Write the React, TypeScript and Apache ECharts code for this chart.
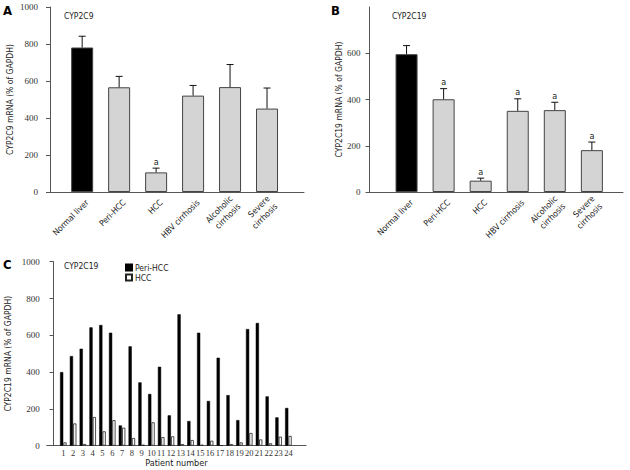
import React, { useEffect, useRef } from "react";
import * as echarts from "echarts";

// ---------- data ----------
const groupNames = [
  "Normal liver",
  "Peri-HCC",
  "HCC",
  "HBV cirrhosis",
  "Alcoholic\ncirrhosis",
  "Severe\ncirrhosis",
];
const cyp2c9Mean = [781, 566, 106, 521, 567, 451];
const cyp2c9Upper = [842, 625, 129, 576, 689, 562];
const cyp2c9Sig = [false, false, true, false, false, false];
const cyp2c19Mean = [596, 401, 49, 351, 354, 181];
const cyp2c19Upper = [633, 447, 60, 403, 388, 216];
const cyp2c19Sig = [false, true, true, true, true, true];
const patientNumbers = [
  1, 2, 3, 4, 5, 6, 7, 8, 9, 10, 11, 12, 13, 14, 15, 16, 17, 18, 19, 20, 21, 22, 23, 24,
];
const periHccValues = [
  400, 487, 527, 643, 656, 614, 110, 540, 344, 281, 429, 165, 714, 134, 614, 243, 478, 275,
  139, 634, 667, 268, 154, 205,
];
const hccValues = [
  18, 121, 9, 156, 78, 139, 98, 42, 5, 127, 47, 51, 9, 31, 5, 27, 2, 9, 18, 69, 34, 13, 49, 53,
];
const groupPositions = [1, 2, 3, 4, 5, 6];
const yTicksA = [0, 200, 400, 600, 800, 1000];
const yTicksB = [0, 200, 400, 600];

// ---------- styling ----------
const SANS = '"DejaVu Sans Condensed", "DejaVu Sans", Verdana, sans-serif';
const SERIF = '"Liberation Serif", "DejaVu Serif", serif';
const AXIS_COLOR = "#555";
const TEXT_COLOR = "#222";
const BAR_GRAY = "#d4d4d4";

function errorRenderer(params: any, api: any) {
  const x = api.value(0);
  const p0 = api.coord([x, api.value(1)]);
  const p1 = api.coord([x, api.value(2)]);
  const half = 3.5;
  const children: any[] = [
    { type: "line", shape: { x1: p0[0], y1: p0[1], x2: p1[0], y2: p1[1] }, style: { stroke: "#111", lineWidth: 1 } },
    { type: "line", shape: { x1: p1[0] - half, y1: p1[1], x2: p1[0] + half, y2: p1[1] }, style: { stroke: "#111", lineWidth: 1 } },
  ];
  if (api.value(3)) {
    children.push({
      type: "text",
      style: { text: "a", x: p1[0], y: p1[1] - 2, align: "center", verticalAlign: "bottom", fill: TEXT_COLOR, fontSize: 9, fontFamily: SANS },
    });
  }
  return { type: "group", children };
}

// 45° category labels placed under each bar through the axis scale
function labelRenderer(params: any, api: any) {
  const idx = api.value(1);
  const p = api.coord([api.value(0), 0]);
  return {
    type: "text",
    x: p[0] + 5,
    y: p[1] + 9,
    rotation: Math.PI / 4,
    style: {
      text: groupNames[idx],
      align: "right",
      verticalAlign: "middle",
      fontSize: 8.5,
      lineHeight: 11,
      fontFamily: SANS,
      fill: TEXT_COLOR,
    },
  };
}

function groupXAxis(gridIndex: number, min: number, max: number) {
  return {
    gridIndex, type: "value", min, max,
    axisLine: { show: true, onZero: false, lineStyle: { color: AXIS_COLOR, width: 1 } },
    axisTick: { show: false }, splitLine: { show: false }, axisLabel: { show: false },
  };
}

function valueYAxis(gridIndex: number, max: number, ticks: number[], name: string, nameGap: number, margin: number) {
  return {
    gridIndex, type: "value", min: 0, max, interval: 200,
    axisLine: { show: true, lineStyle: { color: AXIS_COLOR, width: 1 } },
    axisTick: { show: true, inside: false, length: 4, customValues: ticks, lineStyle: { color: AXIS_COLOR } },
    splitLine: { show: false },
    axisLabel: { customValues: ticks, formatter: (v: number) => String(v), margin, fontSize: 9, fontFamily: SERIF, color: "#333" },
    name, nameLocation: "middle", nameGap,
    nameTextStyle: { fontSize: 8.5, fontFamily: SANS, color: TEXT_COLOR },
  };
}

function groupBars(axisIndex: number, means: number[]) {
  return {
    type: "bar", xAxisIndex: axisIndex, yAxisIndex: axisIndex, barWidth: 22,
    data: means.map((m, i) => ({
      value: [groupPositions[i], m],
      itemStyle: { color: i === 0 ? "#000" : BAR_GRAY, borderColor: "#444", borderWidth: 1 },
    })),
    z: 2,
  };
}

function groupErrors(axisIndex: number, means: number[], uppers: number[], sig: boolean[]) {
  return {
    type: "custom", xAxisIndex: axisIndex, yAxisIndex: axisIndex, renderItem: errorRenderer,
    encode: { x: 0, y: [1, 2] },
    data: means.map((m, i) => [groupPositions[i], m, uppers[i], sig[i] ? 1 : 0]),
    z: 5,
  };
}

function groupLabels(axisIndex: number) {
  return {
    type: "custom", xAxisIndex: axisIndex, yAxisIndex: axisIndex, renderItem: labelRenderer,
    clip: false, silent: true, encode: { x: 0 },
    data: groupPositions.map((p, i) => [p, i]), z: 5,
  };
}

export default function App() {
  const ref = useRef<HTMLDivElement>(null);
  useEffect(() => {
    if (!ref.current) return;
    const chart = echarts.init(ref.current, undefined, { renderer: "svg" });
    const option: any = {
      animation: false,
      backgroundColor: "#fff",
      grid: [
        { left: 50, top: 7, width: 254, height: 185 },
        { left: 369.5, top: 7, width: 253.5, height: 185 },
        { left: 46.7, top: 261.7, width: 259.3, height: 184 },
      ],
      xAxis: [
        groupXAxis(0, 0.13, 7.0),
        groupXAxis(1, 0, 6.84),
        {
          gridIndex: 2, type: "value", min: -0.7, max: 25.8,
          axisLine: { show: true, onZero: false, lineStyle: { color: AXIS_COLOR, width: 1 } },
          axisTick: { show: false }, splitLine: { show: false },
          axisLabel: { customValues: patientNumbers, formatter: (v: number) => String(v), margin: 3, fontSize: 8.5, fontFamily: SERIF, color: "#333" },
          name: "Patient number", nameLocation: "middle", nameGap: 11,
          nameTextStyle: { fontSize: 9, fontFamily: SANS, color: TEXT_COLOR },
        },
      ],
      yAxis: [
        valueYAxis(0, 1000, yTicksA, "CYP2C9 mRNA (% of GAPDH)", 36, 12),
        valueYAxis(1, 800, yTicksB, "CYP2C19 mRNA (% of GAPDH)", 23, 9),
        valueYAxis(2, 1000, yTicksA, "CYP2C19 mRNA (% of GAPDH)", 34, 7),
      ],
      legend: {
        left: 120, top: 258, orient: "vertical", itemWidth: 6, itemHeight: 6, itemGap: 1, icon: "rect",
        textStyle: { fontSize: 8.5, fontFamily: SANS, color: TEXT_COLOR, padding: [0, 0, 0, -2] },
        data: ["Peri-HCC", "HCC"],
      },
      series: [
        groupBars(0, cyp2c9Mean),
        groupErrors(0, cyp2c9Mean, cyp2c9Upper, cyp2c9Sig),
        groupLabels(0),
        groupBars(1, cyp2c19Mean),
        groupErrors(1, cyp2c19Mean, cyp2c19Upper, cyp2c19Sig),
        groupLabels(1),
        {
          name: "Peri-HCC", type: "bar", xAxisIndex: 2, yAxisIndex: 2, barWidth: 3.2, barGap: "5%",
          itemStyle: { color: "#000", borderColor: "#000", borderWidth: 0.5 },
          data: patientNumbers.map((p, i) => [p, periHccValues[i]]),
        },
        {
          name: "HCC", type: "bar", xAxisIndex: 2, yAxisIndex: 2, barWidth: 3.2, barGap: "5%",
          itemStyle: { color: "#fff", borderColor: "#222", borderWidth: 0.8 },
          data: patientNumbers.map((p, i) => [p, hccValues[i]]),
        },
      ],
      graphic: [
        { type: "text", left: 3, top: 4, style: { text: "A", fontSize: 13, fontWeight: "bold", fontFamily: SANS, fill: "#000" } },
        { type: "text", left: 331, top: 4, style: { text: "B", fontSize: 13, fontWeight: "bold", fontFamily: SANS, fill: "#000" } },
        { type: "text", left: 3, top: 258, style: { text: "C", fontSize: 13, fontWeight: "bold", fontFamily: SANS, fill: "#000" } },
        { type: "text", left: 64, top: 11, style: { text: "CYP2C9", fontSize: 8.5, fontFamily: SANS, fill: TEXT_COLOR } },
        { type: "text", left: 392, top: 11, style: { text: "CYP2C19", fontSize: 8.5, fontFamily: SANS, fill: TEXT_COLOR } },
        { type: "text", left: 64, top: 261, style: { text: "CYP2C19", fontSize: 8.5, fontFamily: SANS, fill: TEXT_COLOR } },
      ],
    };
    chart.setOption(option);
    return () => chart.dispose();
  }, []);
  return <div ref={ref} style={{ position: "absolute", left: 0, top: 0, width: 630, height: 470, background: "#fff" }} />;
}
